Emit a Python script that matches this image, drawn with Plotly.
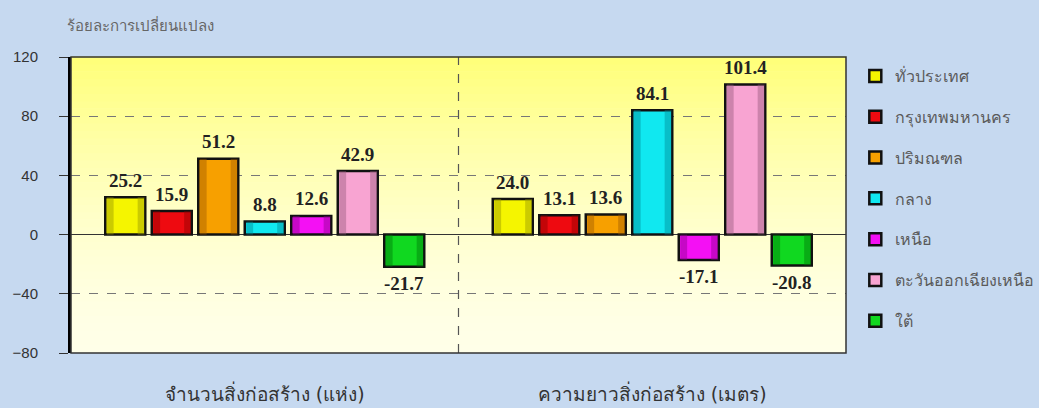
import plotly.graph_objects as go

categories = ["จำนวนสิ่งก่อสร้าง (แห่ง)", "ความยาวสิ่งก่อสร้าง (เมตร)"]
series_names = ["ทั่วประเทศ", "กรุงเทพมหานคร", "ปริมณฑล", "กลาง", "เหนือ",
                "ตะวันออกเฉียงเหนือ", "ใต้"]
values_all = [25.2, 24.0]
values_bkk = [15.9, 13.1]
values_vicinity = [51.2, 13.6]
values_central = [8.8, 84.1]
values_north = [12.6, -17.1]
values_northeast = [42.9, 101.4]
values_south = [-21.7, -20.8]
series_values = [values_all, values_bkk, values_vicinity, values_central,
                 values_north, values_northeast, values_south]
colors = ["#F5F500", "#EE0A10", "#F7A000", "#10E8F0", "#F410F4", "#F8A4D2", "#10D820"]
dark_colors = ["#9A9A00", "#8E0000", "#A05A00", "#008C96", "#8E008E", "#9A5A7E", "#007A08"]
y_ticks = [-80, -40, 0, 40, 80, 120]
y_title = "ร้อยละการเปลี่ยนแปลง"

THAI = "Tahoma, 'DejaVu Sans', 'Noto Sans', sans-serif"

n_series = len(series_names)
group_span = 0.84
slot = group_span / n_series
bar_w = slot * 0.86
inner_w = bar_w * 0.62

fig = go.Figure()
annotations = []
for i, (name, vals, col, dcol) in enumerate(zip(series_names, series_values, colors, dark_colors)):
    off = -group_span / 2 + i * slot + (slot - bar_w) / 2
    fig.add_trace(go.Bar(
        x=categories, y=vals, name=name, legendgroup=name,
        width=bar_w, offset=off,
        marker=dict(color=col, line=dict(color="#111111", width=2.5)),
        hovertemplate="%{y:.1f}<extra>" + name + "</extra>",
    ))
    for c, v in enumerate(vals):
        annotations.append(dict(
            x=c + off + bar_w / 2, y=v, xref="x", yref="y",
            text=f"<b>{v:.1f}</b>", showarrow=False,
            yshift=17 if v >= 0 else -17, yanchor="middle", xanchor="center",
            font=dict(family="'Liberation Serif', 'Times New Roman', serif",
                      size=19, color="#222222")))
# bevel shading overlays (darker sides)
for i, (name, vals, col, dcol) in enumerate(zip(series_names, series_values, colors, dark_colors)):
    off = -group_span / 2 + i * slot + (slot - bar_w) / 2
    side = (bar_w - inner_w) / 2
    for k, o in enumerate([off + 0.004, off + bar_w - side]):
        fig.add_trace(go.Bar(
            x=categories, y=vals, width=side - 0.002, offset=o,
            marker=dict(color=dcol, opacity=0.45, line=dict(width=0)),
            showlegend=False, hoverinfo="skip", legendgroup=name,
        ))

shapes = []
n = 40
for i in range(n):
    t = i / (n - 1)  # 0 bottom -> 1 top
    b = int(0xE8 - (0xE8 - 0x7A) * t ** 1.6)
    shapes.append(dict(type="rect", xref="x domain", yref="y domain",
                       x0=0, x1=1, y0=i / n, y1=(i + 1) / n + 0.002,
                       fillcolor=f"rgb(255,255,{b})", line=dict(width=0),
                       layer="below"))
shapes.append(dict(type="line", xref="x", yref="y domain", x0=0.5, x1=0.5,
                   y0=0, y1=1, line=dict(color="#555555", width=1.2, dash="dash"),
                   layer="above"))
shapes.append(dict(type="rect", xref="x domain", yref="y domain", x0=0, x1=1,
                   y0=0, y1=1, line=dict(color="#333333", width=1.5), layer="above"))

annotations.append(dict(text=y_title, xref="paper", yref="paper", x=-0.008, y=1.108,
                        xanchor="left", yanchor="middle", showarrow=False,
                        font=dict(family=THAI, size=15, color="#666666")))

fig.update_layout(
    width=1039, height=408,
    margin=dict(l=71, r=193, t=57, b=55, autoexpand=False),
    paper_bgcolor="#C6D9F0",
    plot_bgcolor="#FFFFE8",
    barmode="overlay",
    showlegend=True,
    legend=dict(x=1.012, y=0.993, xanchor="left", yanchor="top",
                font=dict(family=THAI, size=16, color="#5A5A5A"),
                tracegroupgap=17, itemwidth=30, bgcolor="rgba(0,0,0,0)"),
    shapes=shapes,
    font=dict(family=THAI, color="#333333"),
    annotations=annotations,
)
fig.update_xaxes(showgrid=False, ticks="", tickfont=dict(family=THAI, size=19, color="#333333"),
                 ticklabelstandoff=28, showline=False, zeroline=False, range=[-0.5, 1.5],
                 automargin=False)
fig.update_yaxes(range=[-80, 120], tickvals=y_ticks, ticks="outside", ticklen=9,
                 tickcolor="#333333", ticklabelstandoff=18, automargin=False,
                 tickfont=dict(family="'Liberation Sans', Arial, sans-serif", size=15, color="#333333"),
                 showgrid=True, gridcolor="#777777", griddash="dash", gridwidth=1,
                 zeroline=True, zerolinecolor="#333333", zerolinewidth=1.2,
                 showline=True, linecolor="#000000", linewidth=3)

fig.write_html("out.html", config={"displayModeBar": False},
               post_script="document.body.style.margin='0';document.body.style.overflow='hidden';")
